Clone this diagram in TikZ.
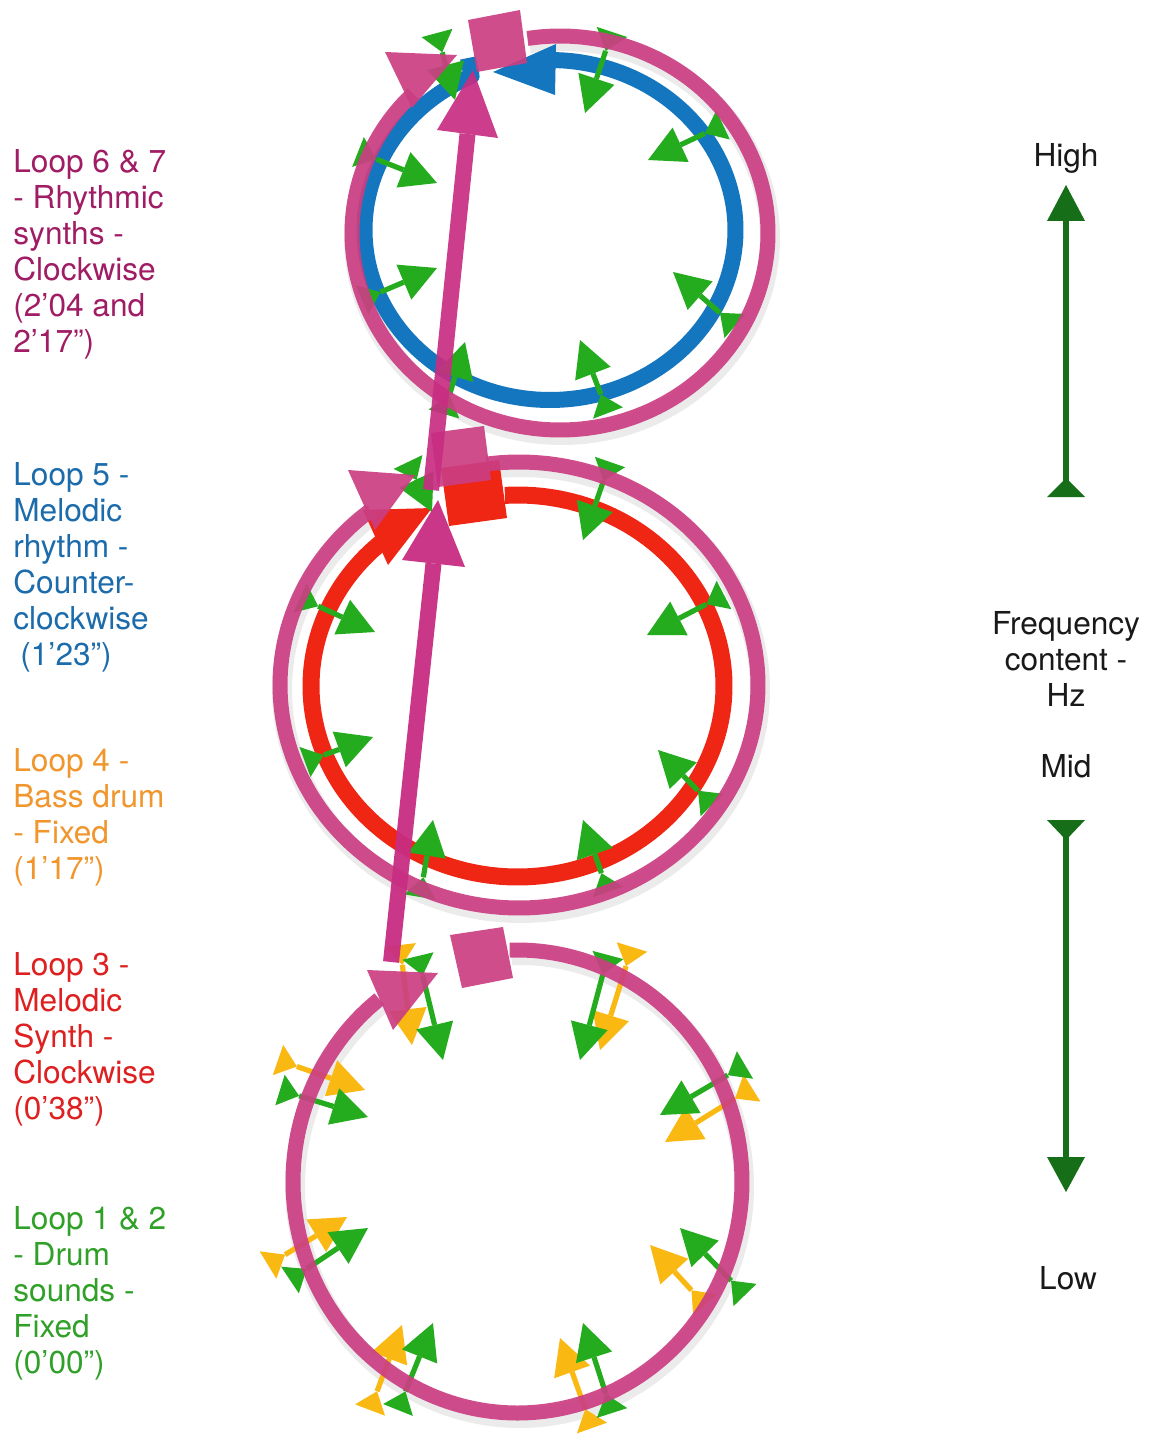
\documentclass[tikz,border=0pt]{standalone}
\usepackage{fontspec}
\setmainfont{TeX Gyre Heros}
\usetikzlibrary{calc}
\definecolor{pk}{RGB}{203,62,130}
\definecolor{pkd}{RGB}{200,45,130}
\definecolor{bl}{RGB}{20,118,190}
\definecolor{rd}{RGB}{240,38,20}
\definecolor{gr}{RGB}{36,172,30}
\definecolor{yl}{RGB}{250,184,18}
\definecolor{dg}{RGB}{22,110,24}
\definecolor{tpk}{RGB}{160,28,100}
\definecolor{tbl}{RGB}{28,108,172}
\definecolor{tor}{RGB}{240,150,45}
\definecolor{trd}{RGB}{222,32,32}
\definecolor{tgr}{RGB}{48,160,40}
\definecolor{tbk}{RGB}{25,25,25}
\newcommand\lblfont{\fontsize{15.8}{18}\selectfont}
% elliptic arc: style, cx, cy, rx, ry, start, end
\newcommand\ringarc[7]{%
  \draw[#1] plot[smooth, domain=#6:#7, samples=90, variable=\t] ({#2+#4*cos(\t)},{#3+#5*sin(\t)});}
% double arrow: colour, outer base centre, inner tip
\newcommand\dblarr[3]{%
  \coordinate (dO) at (#2); \coordinate (dI) at (#3);
  \coordinate (dT) at ($(dO)!10pt!(dI)$);
  \coordinate (dB) at ($(dI)!18pt!(dO)$);
  \draw[#1, line width=2.6pt] (dT) -- (dB);
  \fill[#1] (dT) -- ($(dO)!8pt!90:(dI)$) -- ($(dO)!8pt!-90:(dI)$) -- cycle;
  \fill[#1] (dI) -- ($(dB)!9.5pt!90:(dI)$) -- ($(dB)!9.5pt!-90:(dI)$) -- cycle;}
\tikzset{
  pkring/.style={pk, line width=7.5pt, draw opacity=0.92},
  pkfill/.style={fill=pk, fill opacity=0.92},
  shad/.style={black, draw opacity=0.08, line width=10pt},
  lbl/.style={inner sep=0pt, font=\lblfont},
}
\begin{document}
\begin{tikzpicture}[x=0.5pt, y=-0.5pt, line join=round]
\fill[white] (0,0) rectangle (1150,1439);
\useasboundingbox (0,0) rectangle (1150,1439);

% ---------- soft shadows of the rings ----------
\ringarc{shad}{562}{238}{208}{197}{-99}{225}
\ringarc{shad}{521}{690}{239}{223}{-97.7}{231.5}
\ringarc{shad}{519.5}{1186.5}{224.5}{231.5}{-92}{232}

% ---------- inner coloured rings ----------
% blue (counter-clockwise)
\draw[bl, line width=8pt] (468,58) -- plot[smooth, domain=245:-89, samples=90, variable=\t] ({550+185.5*cos(\t)},{230+170*sin(\t)});
\fill[bl] (493,72) -- (556,44) -- (555,95) -- cycle;
% red (clockwise)
\ringarc{rd, line width=8.5pt}{517.5}{686}{206.5}{191}{-93.5}{228.5}
\fill[rd] (441,468) -- (499,460) -- (507,518) -- (449,526) -- cycle;
\fill[rd] (363,510) -- (432,508) -- (388,565) -- cycle;

% ---------- double arrows: top circle ----------
\dblarr{gr}{437,33}{455,100}
\dblarr{gr}{612,32}{585,113}
\dblarr{gr}{723,125}{648,160}
\dblarr{gr}{358,152}{437,183}
\dblarr{gr}{362,300}{437,268}
\dblarr{gr}{444,414}{465,342}
\dblarr{gr}{608,413}{580,340}
\dblarr{gr}{735,326}{673,272}
% middle circle
\dblarr{gr}{408,462}{432,512}
\dblarr{gr}{610,462}{583,540}
\dblarr{gr}{724,595}{647,635}
\dblarr{gr}{300,598}{375,632}
\dblarr{gr}{305,762}{373,737}
\dblarr{gr}{420,897}{433,820}
\dblarr{gr}{608,892}{583,820}
\dblarr{gr}{712,805}{658,750}
% bottom circle: yellow
\dblarr{yl}{400,945}{412,1045}
\dblarr{yl}{632,947}{600,1050}
\dblarr{yl}{752,1088}{665,1142}
\dblarr{yl}{278,1060}{365,1090}
\dblarr{yl}{268,1265}{347,1217}
\dblarr{yl}{705,1305}{650,1245}
\dblarr{yl}{370,1410}{402,1325}
\dblarr{yl}{592,1428}{560,1338}
% bottom circle: green
\dblarr{gr}{418,956}{443,1060}
\dblarr{gr}{608,955}{580,1060}
\dblarr{gr}{745,1065}{660,1115}
\dblarr{gr}{280,1090}{368,1117}
\dblarr{gr}{290,1280}{368,1228}
\dblarr{gr}{745,1295}{680,1228}
\dblarr{gr}{398,1410}{433,1323}
\dblarr{gr}{612,1413}{583,1323}

% ---------- pink rings (clockwise) ----------
\ringarc{pkring}{560}{233}{208}{197}{-99}{225}
\fill[pkfill] (468,20) -- (520,10) -- (527,63) -- (477,72) -- cycle;
\fill[pkfill] (385,52) -- (457,55) -- (412,108) -- cycle;

\ringarc{pkring}{519}{685}{239}{223}{-97.7}{231.5}
\fill[pkfill] (431,433) -- (484,426) -- (491,480) -- (438,487) -- cycle;
\fill[pkfill] (348,470) -- (415,475) -- (375,530) -- cycle;

\ringarc{pkring}{517.5}{1181.5}{224.5}{231.5}{-92}{232}
\fill[pkfill] (450,935) -- (503,927) -- (513,978) -- (462,988) -- cycle;
\fill[pkfill] (367,970) -- (438,973) -- (393,1030) -- cycle;

% ---------- long pink arrows ----------
\draw[pkd, line width=8pt, draw opacity=0.95] (391,962) -- (433.5,563.5);
\fill[pkd, fill opacity=0.95] (402,560) -- (465,567) -- (438,500) -- cycle;
\draw[pkd, line width=8pt, draw opacity=0.92] (431,490) -- (467.5,134);
\fill[pkd, fill opacity=0.92] (437,130) -- (498,138) -- (473,70) -- cycle;

% ---------- frequency scale ----------
\fill[dg] (1066,185) -- (1085,221) -- (1047,221) -- cycle;
\draw[dg, line width=3pt] (1066,219) -- (1066,482);
\fill[dg] (1066,478) -- (1085,497) -- (1047,497) -- cycle;
\fill[dg] (1047,820) -- (1085,820) -- (1066,840) -- cycle;
\draw[dg, line width=3pt] (1066,836) -- (1066,1160);
\fill[dg] (1047,1157) -- (1085,1157) -- (1066,1192) -- cycle;

\node[lbl, text=tbk, anchor=base] (high) at (1066,167) {High};
\node[lbl, text=tbk, anchor=base] (freq) at (1066,634) {\begin{tabular}[t]{@{}c@{}}Frequency\\content -\\Hz\end{tabular}};
\node[lbl, text=tbk, anchor=base] (mid) at (1066,777) {Mid};
\node[lbl, text=tbk, anchor=base] (low) at (1068,1289) {Low};

% ---------- legend ----------
\node[lbl, text=tpk, anchor=base west] (l67) at (13,173) {\begin{tabular}[t]{@{}l@{}}Loop 6 \& 7\\- Rhythmic\\synths -\\Clockwise\\(2’04 and\\2’17”)\end{tabular}};
\node[lbl, text=tbl, anchor=base west] (l5) at (13,485) {\begin{tabular}[t]{@{}l@{}}Loop 5 -\\Melodic\\rhythm -\\Counter-\\clockwise\\\hspace{3.5pt}(1’23”)\end{tabular}};
\node[lbl, text=tor, anchor=base west] (l4) at (13,771) {\begin{tabular}[t]{@{}l@{}}Loop 4 -\\Bass drum\\- Fixed\\(1’17”)\end{tabular}};
\node[lbl, text=trd, anchor=base west] (l3) at (13,975) {\begin{tabular}[t]{@{}l@{}}Loop 3 -\\Melodic\\Synth -\\Clockwise\\(0’38”)\end{tabular}};
\node[lbl, text=tgr, anchor=base west] (l12) at (13,1229) {\begin{tabular}[t]{@{}l@{}}Loop 1 \& 2\\- Drum\\sounds -\\Fixed\\(0’00”)\end{tabular}};
\end{tikzpicture}
\end{document}
